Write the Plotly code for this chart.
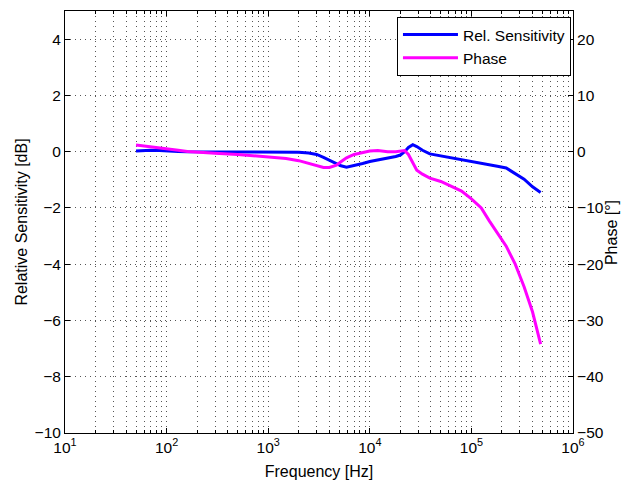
import plotly.graph_objects as go

freq = [50, 60, 70, 85, 100, 130, 160, 200, 300, 500, 700, 1000, 1500, 2000, 2500,
        3000, 3500, 4000, 4700, 5200, 5900, 7000, 8500, 10000, 12000, 15000, 18000,
        20000, 22000, 24000, 26500, 29000, 33000, 39000, 50000, 65000, 80000, 100000,
        125000, 150000, 180000, 220000, 270000, 330000, 400000, 480000]

sens_db = [0.02, 0.04, 0.05, 0.04, 0.02, 0.01, 0.0, 0.0, 0.0, 0.0, 0.0, 0.0, 0.0, -0.02,
           -0.05, -0.1, -0.2, -0.3, -0.45, -0.5, -0.55, -0.5, -0.42, -0.35, -0.3, -0.22,
           -0.17, -0.12, 0.0, 0.15, 0.25, 0.18, 0.05, -0.08, -0.15, -0.22, -0.28, -0.33,
           -0.4, -0.45, -0.52, -0.58, -0.78, -0.98, -1.25, -1.45]

phase_deg = [1.2, 1.0, 0.8, 0.6, 0.45, 0.25, 0.05, -0.1, -0.3, -0.5, -0.7, -0.9, -1.2,
             -1.6, -2.1, -2.5, -2.8, -2.8, -2.4, -1.8, -1.1, -0.5, -0.1, 0.1, 0.2, 0.0,
             0.0, 0.1, 0.2, -0.5, -2.0, -3.3, -4.0, -4.7, -5.3, -6.2, -7.0, -8.4, -10.0,
             -12.3, -14.5, -16.8, -20.0, -24.0, -28.5, -34.2]

x_tickvals = [1e1, 1e2, 1e3, 1e4, 1e5, 1e6]
x_ticktext = ["10<sup>1</sup>", "10<sup>2</sup>", "10<sup>3</sup>", "10<sup>4</sup>",
              "10<sup>5</sup>", "10<sup>6</sup>"]
x_minor = [m * 10 ** k for k in range(1, 6) for m in range(2, 10)]
left_ticks = [-10, -8, -6, -4, -2, 0, 2, 4]
right_ticks = [-50, -40, -30, -20, -10, 0, 10, 20]

FONT = "Liberation Sans, Arial, sans-serif"
GRID = "#555555"
DASH = "1px,4px"

fig = go.Figure()
fig.add_trace(go.Scatter(x=freq, y=sens_db, name="Rel. Sensitivity", mode="lines",
                         line=dict(color="#0000FF", width=3), yaxis="y"))
fig.add_trace(go.Scatter(x=freq, y=phase_deg, name="Phase", mode="lines",
                         line=dict(color="#FF00FF", width=3), yaxis="y2"))

# the page body adds an 8px offset, so the figure is 8px smaller than the window
fig.update_layout(
    width=624, height=481,
    margin=dict(l=57, r=59, t=3, b=56, autoexpand=False),
    paper_bgcolor="white", plot_bgcolor="white",
    font=dict(family=FONT, size=15, color="black"),
    showlegend=True,
    legend=dict(x=0.996, y=0.986, xanchor="right", yanchor="top",
                bgcolor="white", bordercolor="black", borderwidth=1,
                font=dict(size=15.5), itemwidth=55, tracegroupgap=0),
    xaxis=dict(type="log", range=[1, 6], tickvals=x_tickvals, ticktext=x_ticktext,
               automargin=False,
               showline=True, linecolor="black", linewidth=1, mirror="ticks",
               ticks="inside", ticklen=5, tickcolor="black",
               showgrid=True, gridcolor=GRID, griddash=DASH, gridwidth=1,
               minor=dict(tickvals=x_minor, ticks="inside", ticklen=3, tickcolor="black",
                          showgrid=True, gridcolor=GRID, griddash=DASH, gridwidth=1),
               zeroline=False, tickfont=dict(size=15.5),
               title=dict(text="Frequency [Hz]", standoff=11, font=dict(size=16))),
    yaxis=dict(range=[-10, 5], tickvals=left_ticks, automargin=False,
               showline=True, linecolor="black", linewidth=1, mirror=True,
               ticks="inside", ticklen=5, tickcolor="black",
               showgrid=True, gridcolor=GRID, griddash=DASH, gridwidth=1,
               zeroline=False, tickfont=dict(size=15.5),
               title=dict(text="Relative Sensitivity [dB]", standoff=3, font=dict(size=16))),
    yaxis2=dict(range=[-50, 25], tickvals=right_ticks, overlaying="y", side="right",
                automargin=False,
                showline=True, linecolor="black", linewidth=1,
                ticks="inside", ticklen=5, tickcolor="black",
                showgrid=False, zeroline=False, tickfont=dict(size=15.5)),
)

fig.add_annotation(text="Phase [°]", xref="paper", yref="paper", x=1.0, y=0.475,
                   xshift=49, textangle=-90, showarrow=False,
                   font=dict(family=FONT, size=16, color="black"))

fig.write_html("out.html")
